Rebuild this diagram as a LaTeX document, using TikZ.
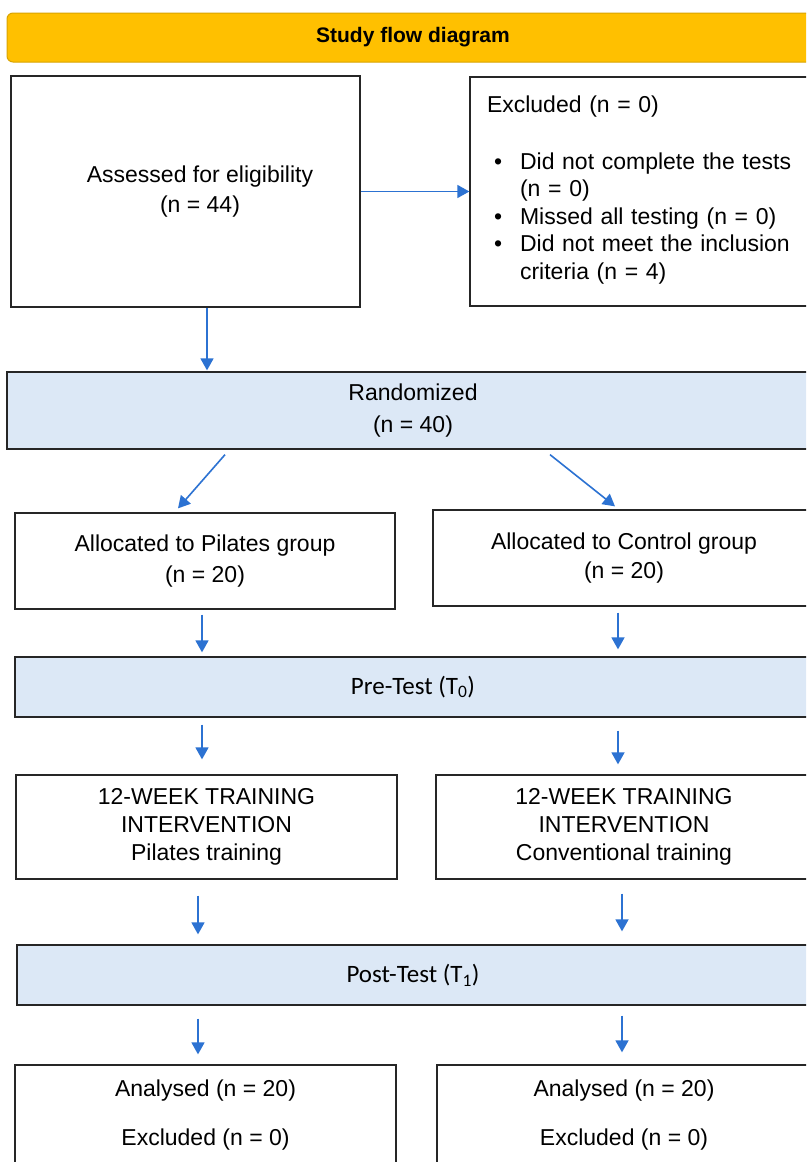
\documentclass[tikz,border=0pt]{standalone}
\usepackage{fontspec}
\setmainfont{Liberation Sans}
\newfontfamily\calibri{Carlito}
\usetikzlibrary{arrows.meta}

\definecolor{titlefill}{HTML}{FFC000}
\definecolor{titleline}{HTML}{D9A400}
\definecolor{stagefill}{HTML}{DCE8F6}
\definecolor{arrowblue}{HTML}{2C72D2}
\definecolor{boxline}{HTML}{262626}

\tikzset{
  box/.style={draw=boxline, line width=1.3pt, fill=white, inner sep=0pt,
    align=center, font=\fontsize{23}{29.5}\selectfont},
  stage/.style={box, fill=stagefill},
  testbar/.style={stage, font=\calibri\fontsize{25}{30}\selectfont},
  arr/.style={-{Triangle[width=13pt,length=12pt]}, line width=1.6pt, draw=arrowblue},
}

\begin{document}
\begin{tikzpicture}[x=1pt,y=-1pt]
  \useasboundingbox (0,0) rectangle (806,1162);
  \clip (0,0) rectangle (806,1162);
  \fill[white] (0,0) rectangle (806,1162);

  % Title banner
  \node[draw=titleline, fill=titlefill, rounded corners=6pt, line width=1pt,
    minimum width=812pt, minimum height=49pt, inner sep=0pt,
    font=\bfseries\fontsize{21}{24}\selectfont] (title) at (413,37.5) {Study flow diagram};

  % Enrolment
  \node[box, minimum width=349pt, minimum height=231pt] (elig) at (185.5,191.5) {};
  \node[align=center, font=\fontsize{23}{29.5}\selectfont] (eligtxt)
    at ([xshift=14.5pt]elig.center) {Assessed for eligibility\\(n = 44)};
  \node[box, align=left, text width=311pt, inner xsep=17pt, minimum height=229pt,
    font=\fontsize{23}{27.5}\selectfont] (excl) at (642.5,191.5)
    {Excluded (n = 0)\\[29.5pt]
     \begin{tabular}[t]{@{\hspace{7pt}}l@{\hspace{18pt}}l@{}}
       \textbullet & Did not complete the tests\\
                   & (n = 0)\\
       \textbullet & Missed all testing (n = 0)\\
       \textbullet & Did not meet the inclusion\\
                   & criteria (n = 4)
     \end{tabular}};
  \node[stage, minimum width=812pt, minimum height=77pt, font=\fontsize{23}{32}\selectfont] (rand)
    at (413,410.5) {Randomized\\(n = 40)};

  % Allocation
  \node[box, minimum width=380pt, minimum height=96pt, font=\fontsize{23}{31}\selectfont] (pil)
    at (205,561) {Allocated to Pilates group\\(n = 20)};
  \node[box, minimum width=382pt, minimum height=96pt] (ctrl) at (624,558) {Allocated to Control group\\(n = 20)};
  \node[testbar, minimum width=796pt, minimum height=60pt] (pre) at (413,687) {Pre-Test (T\textsubscript{0})};

  % Intervention
  \node[box, minimum width=381pt, minimum height=104pt, font=\fontsize{23}{28}\selectfont] (trp)
    at (206.5,827) {12-WEEK TRAINING\\INTERVENTION\\Pilates training};
  \node[box, minimum width=376pt, minimum height=104pt, font=\fontsize{23}{28}\selectfont] (trc)
    at (624,827) {12-WEEK TRAINING\\INTERVENTION\\Conventional training};
  \node[testbar, minimum width=792pt, minimum height=60pt] (post) at (413,975) {Post-Test (T\textsubscript{1})};

  % Analysis
  \node[box, minimum width=381pt, minimum height=100pt] (anp) at (205.5,1115) {Analysed (n = 20)\\[19.5pt]Excluded (n = 0)};
  \node[box, minimum width=374pt, minimum height=100pt] (anc) at (624,1115) {Analysed (n = 20)\\[19.5pt]Excluded (n = 0)};

  % Draw arrows
  \draw[arr] (elig.east) -- (excl.west);
  \draw[arr, shorten >=1pt] ([xshift=21.5pt]elig.south) -- ([xshift=21.5pt]elig.south |- rand.north);
  \draw[arr] ([xshift=-188pt,yshift=-5pt]rand.south) -- ([xshift=-27pt,yshift=4pt]pil.north);
  \draw[arr] ([xshift=137pt,yshift=-5pt]rand.south) -- ([xshift=-9pt,yshift=3pt]ctrl.north);
  \draw[arr, shorten <=5pt, shorten >=4pt] ([xshift=-3pt]pil.south) -- ([xshift=-3pt]pil.south |- pre.north);
  \draw[arr, shorten <=6pt, shorten >=7pt] ([xshift=-6pt]ctrl.south) -- ([xshift=-6pt]ctrl.south |- pre.north);
  \draw[arr, shorten <=7pt, shorten >=15pt] ([xshift=-4.5pt]trp.north |- pre.south) -- ([xshift=-4.5pt]trp.north);
  \draw[arr, shorten <=13pt, shorten >=10pt] ([xshift=-6pt]trc.north |- pre.south) -- ([xshift=-6pt]trc.north);
  \draw[arr, shorten <=16pt, shorten >=10pt] ([xshift=-8.5pt]trp.south) -- ([xshift=-8.5pt]trp.south |- post.north);
  \draw[arr, shorten <=14pt, shorten >=13pt] ([xshift=-2pt]trc.south) -- ([xshift=-2pt]trc.south |- post.north);
  \draw[arr, shorten <=13pt, shorten >=10pt] ([xshift=-7.5pt]anp.north |- post.south) -- ([xshift=-7.5pt]anp.north);
  \draw[arr, shorten <=10pt, shorten >=12pt] ([xshift=-2pt]anc.north |- post.south) -- ([xshift=-2pt]anc.north);
\end{tikzpicture}
\end{document}
